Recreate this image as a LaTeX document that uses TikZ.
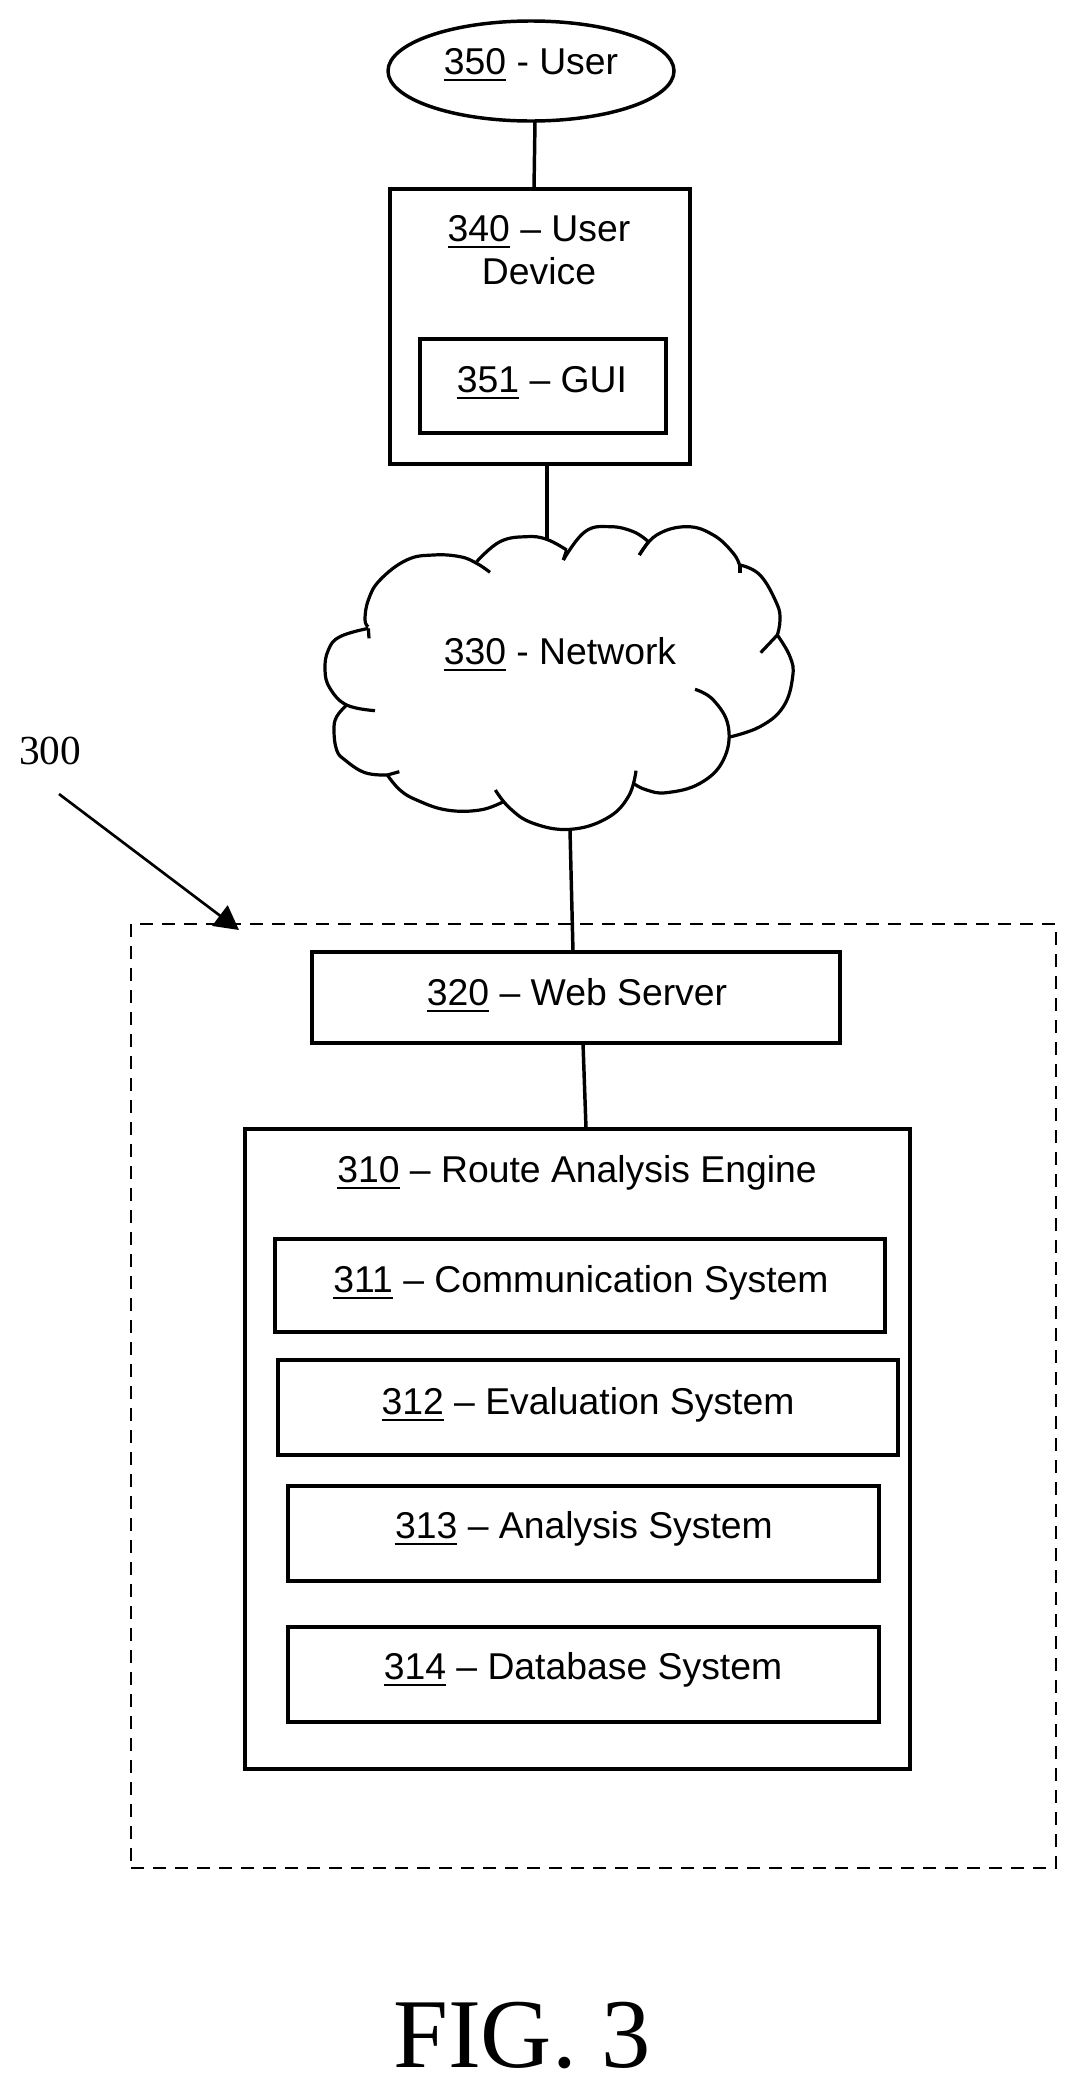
\documentclass[tikz,border=0pt]{standalone}
\usepackage{fontspec}
\setmainfont{Liberation Sans}
\newfontfamily\serifrm{Liberation Serif}
\usetikzlibrary{shapes.geometric,fit,arrows.meta}
\newsavebox\ubox
\newcommand\unum[1]{\sbox\ubox{#1}\rlap{\vrule width\wd\ubox height -3.4pt depth 5.4pt}\usebox\ubox}
\tikzset{
  diagbox/.style={draw=black,line width=2.6pt,fill=none,rectangle,inner sep=0pt,outer sep=0pt},
  txt/.style={anchor=base,inner sep=0pt,outer sep=0pt,font=\fontsize{28}{31.5}\selectfont},
  link/.style={draw=black,line width=2.6pt},
  cloudline/.style={draw=black,line width=2.4pt,line join=round},
  dashbox/.style={draw=black,line width=2pt,rectangle,inner sep=0pt,outer sep=0pt,dash pattern=on 9.75pt off 6.75pt},
}
\begin{document}
\begin{tikzpicture}[x=.75pt,y=-.75pt]
\useasboundingbox (0,0) rectangle (1076,2085);
% outer dashed system
\node[dashbox,fit={(131,924)(1056,1868)}] (sys) {};
% user
\node[draw=black,line width=2.6pt,ellipse,inner sep=0pt,outer sep=0pt,minimum width=214.5pt,minimum height=75pt] (user) at (531,71) {};
\node[txt] (userT) at (531,74) {\unum{350} - User};
% device
\node[diagbox,fit={(390,189)(690,464)}] (dev) {};
\node[txt] (devT1) at (539,241) {\unum{340} -- User};
\node[txt] (devT2) at (539,284) {Device};
\node[diagbox,fit={(420,339)(666,433)}] (gui) {};
\node[txt] (guiT) at (542,392) {\unum{351} -- GUI};
% cloud
\node[txt] (netT) at (560,664) {\unum{330} - Network};
\coordinate (cTop) at (547,540);
\coordinate (cBot) at (570,830);
\begin{scope}[shift={(300,480)},x=.25pt,y=-.25pt,smooth,tension=.7]
\draw[cloudline] plot coordinates {(530,245)(600,185)(680,170)(740,178)(800,210)};
\draw[cloudline] plot coordinates {(800,210)(790,240)};
\draw[cloudline] plot coordinates {(790,240)(855,155)(930,140)(1000,155)(1045,185)};
\draw[cloudline] plot coordinates {(1045,185)(1018,225)};
\draw[cloudline] plot coordinates {(1018,225)(1070,165)(1160,140)(1240,165)(1300,220)(1320,260)};
\draw[cloudline] plot coordinates {(1320,255)(1320,280)};
\draw[cloudline] plot coordinates {(1320,255)(1380,285)(1430,370)(1440,420)(1432,465)};
\draw[cloudline] plot coordinates {(1432,465)(1382,518)};
\draw[cloudline] plot coordinates {(1432,465)(1470,530)(1478,590)(1450,680)(1380,740)(1285,772)};
\draw[cloudline] plot coordinates {(1185,628)(1240,660)(1285,740)(1270,840)(1200,910)(1100,938)(1040,930)(1003,912)};
\draw[cloudline] plot coordinates {(1008,872)(985,950)(920,1015)(810,1048)(700,1030)(630,985)(586,930)};
\draw[cloudline] plot coordinates {(610,965)(540,990)(440,990)(350,960)(300,930)(262,885)};
\draw[cloudline] plot coordinates {(262,885)(298,875)};
\draw[cloudline] plot coordinates {(262,885)(195,878)(135,840)(110,810)(102,750)(110,710)(140,675)};
\draw[cloudline] plot coordinates {(225,692)(140,675)(90,625)(75,570)(85,510)(120,470)(205,445)};
\draw[cloudline] plot coordinates {(205,445)(207,475)};
\draw[cloudline] plot coordinates {(205,440)(195,420)(205,360)(240,300)(320,240)(400,225)(480,230)(530,250)(570,277)};
\end{scope}
% web server
\node[diagbox,fit={(312,952)(840,1043)}] (web) {};
\node[txt] (webT) at (577,1005) {\unum{320} -- Web Server};
% engine
\node[diagbox,fit={(245,1129)(910,1769)}] (eng) {};
\node[txt] (engT) at (577,1182) {\unum{310} -- Route Analysis Engine};
\node[diagbox,fit={(275,1239)(885,1332)}] (s311) {};
\node[txt] (t311) at (581,1292) {\unum{311} -- Communication System};
\node[diagbox,fit={(278,1360)(898,1455)}] (s312) {};
\node[txt] (t312) at (588,1414) {\unum{312} -- Evaluation System};
\node[diagbox,fit={(288,1486)(879,1581)}] (s313) {};
\node[txt] (t313) at (584,1538) {\unum{313} -- Analysis System};
\node[diagbox,fit={(288,1627)(879,1722)}] (s314) {};
\node[txt] (t314) at (583,1679) {\unum{314} -- Database System};
% connectors
\draw[link] ([xshift=3pt]user.south) -- ([xshift=-4.5pt]dev.north);
\draw[link] (dev.south -| cTop) -- (cTop);
\draw[link] (cBot) -- ([xshift=-2.25pt]web.north);
\draw[link] ([xshift=5.25pt]web.south) -- ([xshift=6.4pt]eng.north);
% reference numeral
\node[anchor=base,inner sep=0pt,font=\serifrm\fontsize{31}{35}\selectfont] (r300) at (50,764) {300};
\coordinate (aStart) at (59,794);
\coordinate (aEnd) at (239,930);
\draw[draw=black,line width=2pt,-{Triangle[length=18pt,width=19pt]}] (aStart) -- (aEnd);
% caption
\node[anchor=base,inner sep=0pt,font=\serifrm\fontsize{74}{80}\selectfont] (fig) at (522,2067) {FIG. 3};
\end{tikzpicture}
\end{document}
